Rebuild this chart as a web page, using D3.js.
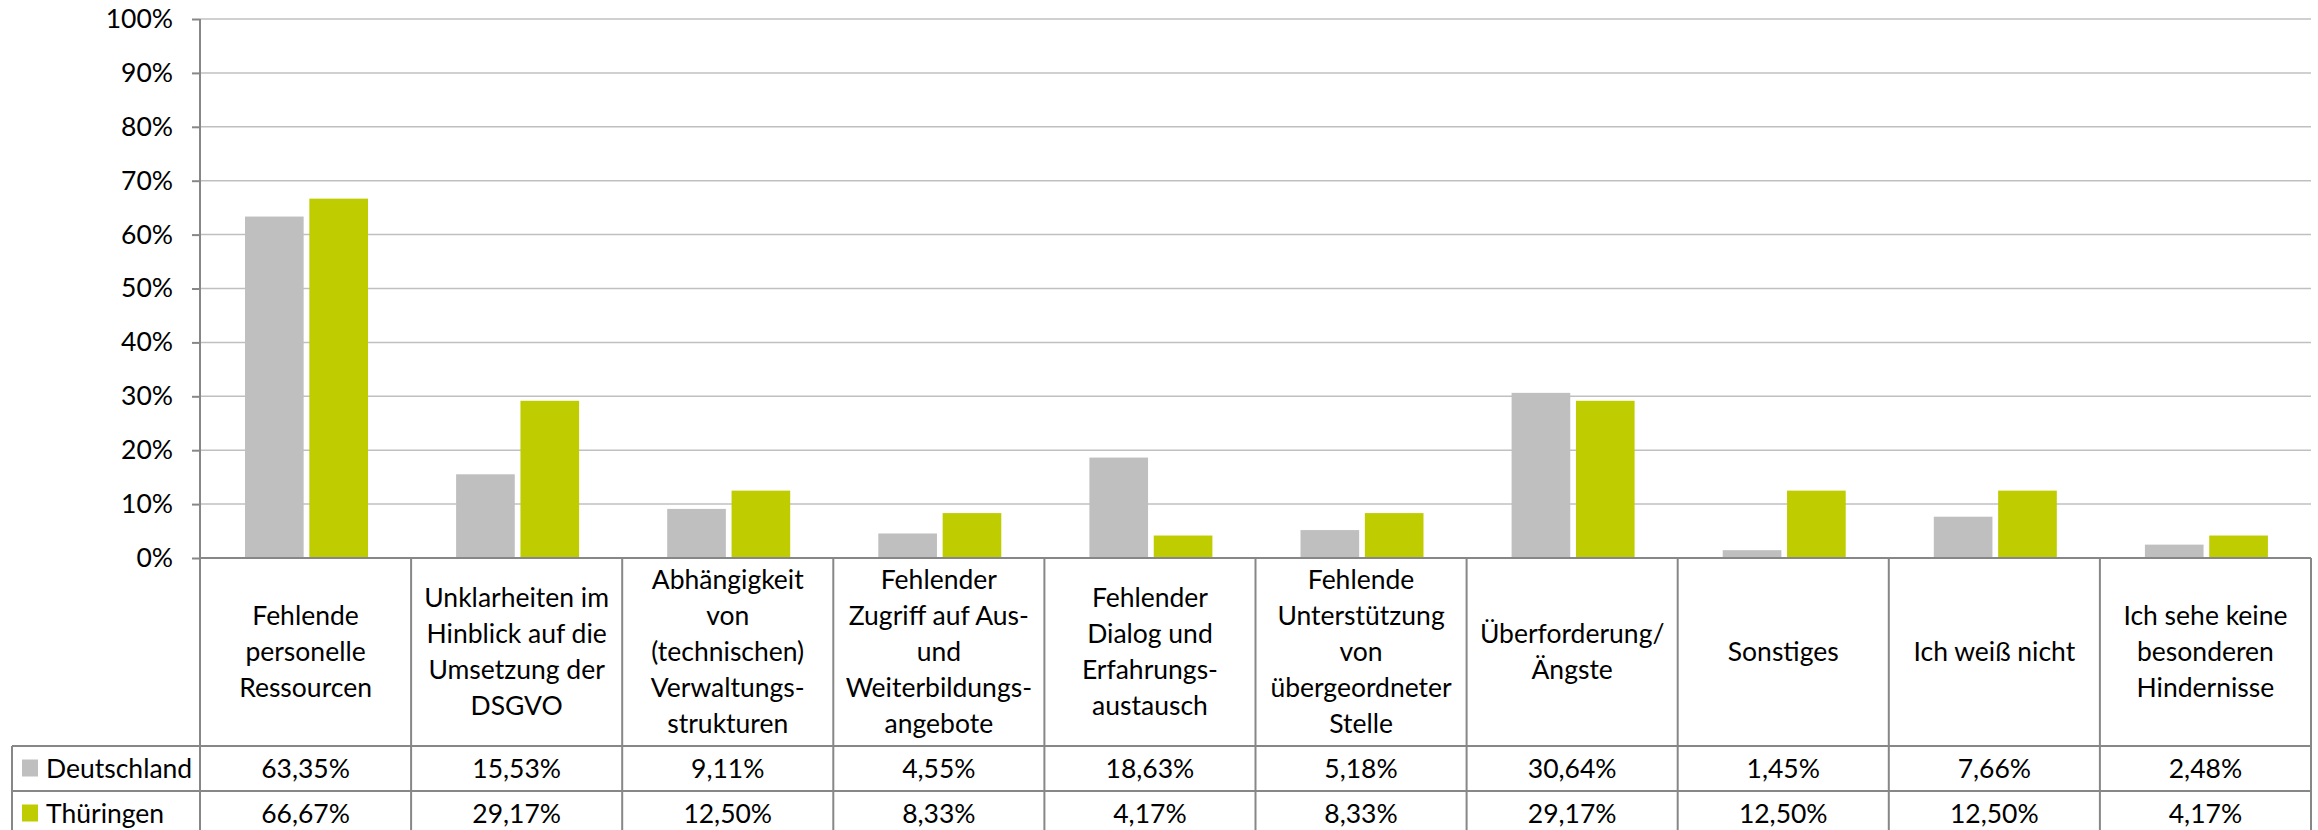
<!DOCTYPE html>
<html><head><meta charset="utf-8">
<script src="https://cdn.jsdelivr.net/npm/d3@7"></script>
<style>
html,body{margin:0;padding:0;background:#fff;}
svg{display:block;}
text{font-family:Lato,"Liberation Sans",sans-serif;fill:#000;}
</style></head><body>
<svg id="chart" width="2318" height="830"></svg>
<script>
const categories = [
  ["Fehlende","personelle","Ressourcen"],
  ["Unklarheiten im","Hinblick auf die","Umsetzung der","DSGVO"],
  ["Abhängigkeit","von","(technischen)","Verwaltungs-","strukturen"],
  ["Fehlender","Zugriff auf Aus-","und","Weiterbildungs-","angebote"],
  ["Fehlender","Dialog und","Erfahrungs-","austausch"],
  ["Fehlende","Unterstützung","von","übergeordneter","Stelle"],
  ["Überforderung/","Ängste"],
  ["Sonstiges"],
  ["Ich weiß nicht"],
  ["Ich sehe keine","besonderen","Hindernisse"]
];
const seriesNames = ["Deutschland","Thüringen"];
const deutschland = [63.35,15.53,9.11,4.55,18.63,5.18,30.64,1.45,7.66,2.48];
const thueringen  = [66.67,29.17,12.50,8.33,4.17,8.33,29.17,12.50,12.50,4.17];
const seriesColors = ["#bfbfbf","#bfcc00"];
const yTicks = [0,10,20,30,40,50,60,70,80,90,100];

(function(){
const svg = d3.select("#chart");
const pLeft = 200, pRight = 2311, pTop = 19, pBottom = 558;
const headerBottom = 746, rowH = 45, tableLeft = 12;
const axisColor = "#878787", gridColor = "#c0c0c0";
const fontSize = 26.5;
const fontFam = "Lato,'Liberation Sans',sans-serif";

const idx = d3.range(categories.length);
const x = d3.scaleBand().domain(idx).range([pLeft, pRight]).padding(0);
const x1 = d3.scaleBand().domain(seriesNames).range([45, 168]).paddingInner(0.0885).paddingOuter(0);
const y = d3.scaleLinear().domain([0, 100]).range([pBottom, pTop]);

// gridlines
svg.append("g").selectAll("line").data(yTicks.filter(d=>d>0)).join("line")
  .attr("x1", pLeft).attr("x2", pRight)
  .attr("y1", d=>y(d)).attr("y2", d=>y(d))
  .attr("stroke", gridColor).attr("stroke-width", 1.5);

// y axis
const yAxis = d3.axisLeft(y).tickValues(yTicks).tickSize(8).tickPadding(19).tickFormat(d=>d+"%");
const ga = svg.append("g").attr("transform", `translate(${pLeft},0)`).call(yAxis);
ga.select(".domain").remove();
ga.selectAll(".tick line").attr("stroke", axisColor).attr("stroke-width", 2);
ga.selectAll(".tick text").attr("font-size", fontSize).attr("font-family", fontFam).attr("fill","#000");
svg.append("line").attr("x1", pLeft).attr("x2", pLeft).attr("y1", pTop).attr("y2", headerBottom + 2*rowH)
  .attr("stroke", axisColor).attr("stroke-width", 2);

// bars
const data = [deutschland, thueringen];
const gBars = svg.append("g");
seriesNames.forEach((s, si) => {
  gBars.append("g").selectAll("rect").data(idx).join("rect")
    .attr("x", i => x(i) + x1(s))
    .attr("width", x1.bandwidth())
    .attr("y", i => y(data[si][i]))
    .attr("height", i => y(0) - y(data[si][i]))
    .attr("fill", seriesColors[si]);
});

// table lines
const tl = svg.append("g").attr("stroke", axisColor).attr("stroke-width", 2);
tl.append("line").attr("x1", pLeft).attr("x2", pRight).attr("y1", pBottom).attr("y2", pBottom);
idx.forEach(i => {
  tl.append("line").attr("x1", x(i)+x.bandwidth()).attr("x2", x(i)+x.bandwidth())
    .attr("y1", pBottom).attr("y2", headerBottom + 2*rowH);
});
[0,1,2].forEach(r => {
  tl.append("line").attr("x1", tableLeft).attr("x2", pRight)
    .attr("y1", headerBottom + r*rowH).attr("y2", headerBottom + r*rowH);
});
tl.append("line").attr("x1", tableLeft).attr("x2", tableLeft).attr("y1", headerBottom).attr("y2", headerBottom + 2*rowH);

// category labels
const lineH = 36;
const headerMid = (pBottom + headerBottom) / 2;
const gl = svg.append("g");
categories.forEach((lines, i) => {
  const cx = x(i) + x.bandwidth()/2;
  const t = gl.append("text").attr("text-anchor","middle").attr("font-size", fontSize);
  const n = lines.length;
  lines.forEach((ln, k) => {
    t.append("tspan").attr("x", cx)
      .attr("y", headerMid + (k - (n-1)/2)*lineH)
      .attr("dy", "0.35em").text(ln);
  });
});

// value rows & legend
const fmt = v => v.toFixed(2).replace(".", ",") + "%";
seriesNames.forEach((s, si) => {
  const rowMid = headerBottom + si*rowH + rowH/2;
  svg.append("rect").attr("x", 22).attr("y", rowMid - 9).attr("width", 16).attr("height", 17).attr("fill", seriesColors[si]);
  svg.append("text").attr("x", 46).attr("y", rowMid).attr("dy","0.35em").attr("font-size", fontSize).text(s);
  svg.append("g").selectAll("text").data(idx).join("text")
    .attr("x", i => x(i) + x.bandwidth()/2)
    .attr("y", rowMid).attr("dy","0.35em")
    .attr("text-anchor","middle").attr("font-size", fontSize)
    .text(i => fmt(data[si][i]));
});
})();
</script>
</body></html>
